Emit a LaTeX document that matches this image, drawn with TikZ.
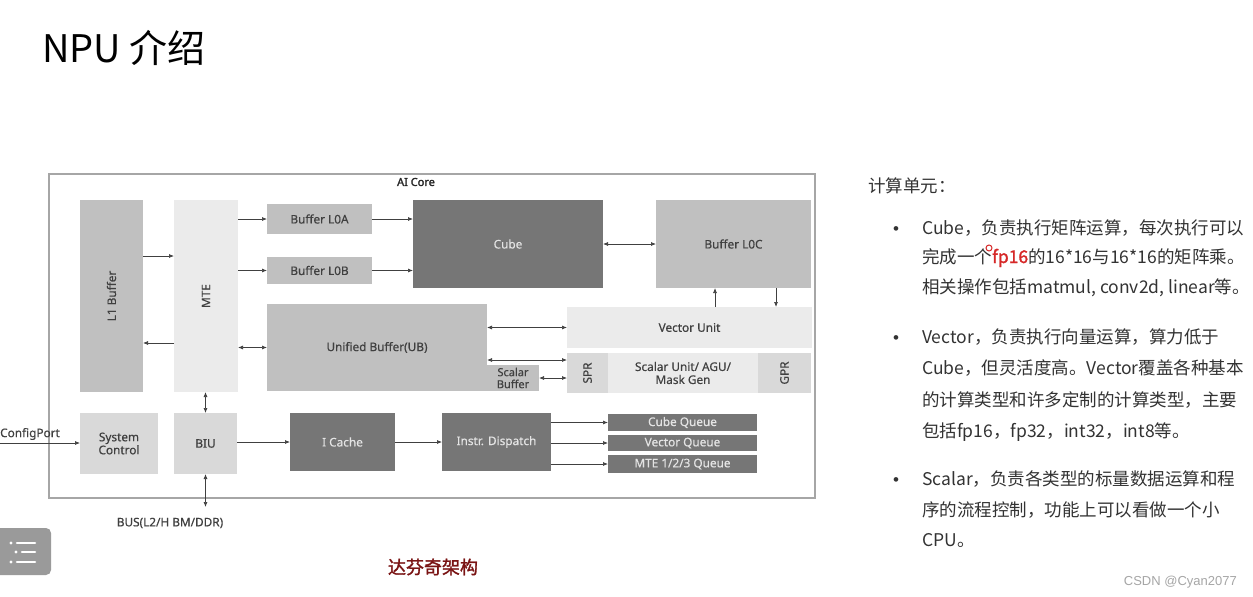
\documentclass[tikz,border=0pt]{standalone}
\usepackage{fontspec}
\usepackage{xcolor}
\usepackage{graphicx}
\usetikzlibrary{arrows.meta}
\setmainfont{Noto Sans}
\newfontfamily\diagfont[FakeBold=0.5]{Noto Sans}
\newfontfamily\corefont[FakeBold=2]{Noto Sans}
\newfontfamily\zhfont{Noto Sans CJK SC}
\newfontfamily\zhbold[FakeBold=1.6]{Noto Sans CJK SC}
\newfontfamily\markfont{Liberation Sans}
\definecolor{framegray}{HTML}{A6A6A6}
\definecolor{darkfill}{HTML}{767676}
\definecolor{midfill}{HTML}{C0C0C0}
\definecolor{lightfill}{HTML}{D9D9D9}
\definecolor{palefill}{HTML}{EBEBEB}
\definecolor{inktext}{HTML}{404040}
\definecolor{paletext}{HTML}{E4E4E4}
\definecolor{bodytext}{HTML}{333333}
\definecolor{captionred}{HTML}{7A1414}
\definecolor{markred}{HTML}{D62828}
\definecolor{icongray}{HTML}{9A9A9A}

\begin{document}
\begin{tikzpicture}[x=1pt, y=-1pt, >={Latex[length=5pt,width=4pt]},
  blk/.style={anchor=north west, inner sep=0pt, outer sep=0pt, align=center,
    font=\diagfont\fontsize{11.8}{13}\selectfont, text=inktext},
  darkblk/.style={blk, fill=darkfill, text=paletext},
  midblk/.style={blk, fill=midfill},
  lightblk/.style={blk, fill=lightfill},
  paleblk/.style={blk, fill=palefill},
  plain/.style={inner sep=0pt, font=\diagfont\fontsize{11.8}{13}\selectfont, text=inktext},
  link/.style={->, draw=inktext, line width=0.7pt},
  desc/.style={anchor=base west, inner sep=0pt, text=bodytext,
    font=\zhfont\fontsize{17.5}{20}\selectfont}]
  \useasboundingbox (0,0) rectangle (1253,597);
  \fill[white] (0,0) rectangle (1253,597);

  \node[anchor=base west, inner sep=0pt, font=\zhfont\fontsize{38}{40}\selectfont] (title) at (42,62) {NPU 介绍};

  \draw[framegray, line width=2pt] (49,174) rectangle (815,498);
  \node[plain, font=\corefont\fontsize{11}{12}\selectfont, text=black!85] (core) at (416,182) {AI Core};

  \node[midblk, minimum width=63pt, minimum height=192pt] (l1) at (80,200) {\rotatebox{90}{L1 Buffer}};
  \node[paleblk, minimum width=64pt, minimum height=192pt] (mte) at (174,200) {\rotatebox{90}{MTE}};
  \node[midblk, minimum width=105pt, minimum height=30pt] (l0a) at (267,204) {Buffer L0A};
  \node[midblk, minimum width=105pt, minimum height=27pt] (l0b) at (267,257) {Buffer L0B};
  \node[darkblk, minimum width=190pt, minimum height=88pt] (cube) at (413,200) {Cube};
  \node[midblk, minimum width=155pt, minimum height=88pt] (l0c) at (656,200) {Buffer L0C};
  \node[midblk, minimum width=220pt, minimum height=87pt] (ub) at (267,304) {Unified Buffer(UB)};
  \node[midblk, minimum width=52pt, minimum height=26pt, font=\diagfont\fontsize{11}{12}\selectfont] (sbuf) at (487,365) {Scalar\\Buffer};
  \node[paleblk, minimum width=245pt, minimum height=41pt] (vec) at (567,307) {Vector Unit};
  \node[lightblk, minimum width=41pt, minimum height=40pt] (spr) at (567,353) {\rotatebox{90}{SPR}};
  \node[paleblk, minimum width=150pt, minimum height=40pt] (scalar) at (608,353) {Scalar Unit/ AGU/\\Mask Gen};
  \node[lightblk, minimum width=53pt, minimum height=40pt] (gpr) at (758,353) {\rotatebox{90}{GPR}};

  \node[lightblk, minimum width=78pt, minimum height=61pt] (sysctl) at (80,413) {System\\Control};
  \node[lightblk, minimum width=63pt, minimum height=61pt] (biu) at (174,413) {BIU};
  \node[darkblk, minimum width=105pt, minimum height=58pt] (icache) at (290,413) {I Cache};
  \node[darkblk, minimum width=109pt, minimum height=58pt] (disp) at (442,413) {Instr. Dispatch};
  \node[darkblk, minimum width=149pt, minimum height=17pt] (cubeq) at (608,414) {Cube Queue};
  \node[darkblk, minimum width=149pt, minimum height=16pt] (vecq) at (608,435) {Vector Queue};
  \node[darkblk, minimum width=149pt, minimum height=18pt] (mteq) at (608,455) {MTE 1/2/3 Queue};

  \draw[link] (l1.east |- 0,256) -- (mte.west |- 0,256);
  \draw[link] (mte.west |- 0,343) -- (l1.east |- 0,343);
  \draw[link] (mte.east |- l0a.west) -- (l0a.west);
  \draw[link] (mte.east |- l0b.west) -- (l0b.west);
  \draw[link] (l0a.east) -- (cube.west |- l0a.east);
  \draw[link] (l0b.east) -- (cube.west |- l0b.east);
  \draw[link, <->] (cube.east) -- (l0c.west);
  \draw[link, <->] (mte.east |- ub.west) -- (ub.west);
  \draw[link, <->] (ub.east |- vec.west) -- (vec.west);
  \draw[link, <->] (ub.east |- 0,360) -- (spr.west |- 0,360);
  \draw[link, <->] (sbuf.east) -- (spr.west |- sbuf.east);
  \draw[link] (vec.north -| 715,0) -- (l0c.south -| 715,0);
  \draw[link] (l0c.south -| 776,0) -- (vec.north -| 776,0);
  \draw[link, <->] (biu.north |- mte.south) -- (biu.north);

  \coordinate (bus) at (205,507);
  \draw[link, <->] (biu.south) -- (biu.south |- bus);
  \node[plain] (buslbl) at (170,523) {BUS(L2/H BM/DDR)};
  \coordinate (cfg) at (0,443);
  \draw[link] (cfg) -- (sysctl.west |- cfg);
  \node[plain, anchor=west] (cfglbl) at (0,434) {ConfigPort};

  \draw[link] (biu.east |- icache.west) -- (icache.west);
  \draw[link] (icache.east) -- (disp.west |- icache.east);
  \draw[link] (disp.east |- cubeq.west) -- (cubeq.west);
  \draw[link] (disp.east |- vecq.west) -- (vecq.west);
  \draw[link] (disp.east |- mteq.west) -- (mteq.west);

  \node[font=\zhbold\fontsize{18}{20}\selectfont, text=captionred, inner sep=0pt] (caption) at (433,567) {达芬奇架构};

  \node[desc] (unit) at (868,192) {计算单元：};
  \foreach \y in {234,343,485}
    \node[desc, anchor=base, font=\markfont\fontsize{17}{20}\selectfont] at (896,\y) {•};
  \foreach \y/\t [count=\i] in {
      234/{Cube，负责执行矩阵运算，每次执行可以},
      263/{完成一个{\zhbold\color{markred}fp16}的16*16与16*16的矩阵乘。},
      293/{相关操作包括matmul, conv2d, linear等。},
      343/{Vector，负责执行向量运算，算力低于},
      374/{Cube，但灵活度高。Vector覆盖各种基本},
      406/{的计算类型和许多定制的计算类型，主要},
      437/{包括fp16，fp32，int32，int8等。},
      485/{Scalar，负责各类型的标量数据运算和程},
      516/{序的流程控制，功能上可以看做一个小},
      546/{CPU。}}
    \node[desc] (line\i) at (922,\y) {\t};
  \draw[markred, line width=1pt] (989,248) circle (3pt);

  \node[anchor=base east, inner sep=0pt, font=\markfont\fontsize{13}{15}\selectfont, text=black!35] (mark) at (1237,585) {CSDN @Cyan2077};

  \fill[icongray, rounded corners=5pt] (-6,528) rectangle (51,575);
  \foreach \y/\d in {543/11,552/16,562/11} {
    \fill[white] (\d,\y) circle (1.7pt);
    \draw[white, line width=2.6pt, line cap=round] (\d+6,\y) -- (35,\y);
  }
\end{tikzpicture}
\end{document}
